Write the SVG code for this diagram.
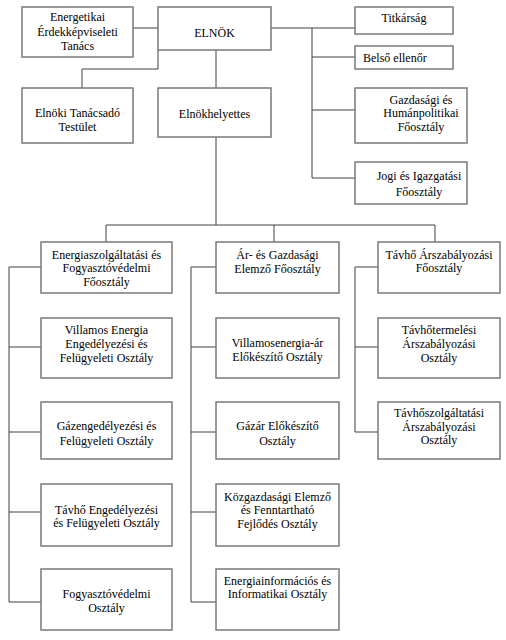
<svg xmlns="http://www.w3.org/2000/svg" width="506" height="640" viewBox="0 0 506 640" font-family="Liberation Serif, DejaVu Serif, Times New Roman, serif">
<style>
.b{fill:#fff;stroke:#7a7a7a;stroke-width:1.5}
.c{fill:none;stroke:#404040;stroke-width:1}
text{font-size:12px;fill:#000;text-anchor:middle}
</style>
<rect width="506" height="640" fill="#fff"/>
<g id="connectors">
<path class="c" d="M133 28H158"/>
<path class="c" d="M158 50V69H82V88"/>
<path class="c" d="M216 50V88"/>
<path class="c" d="M271 28H355M312 28V178M312 57H355M312 110H355M312 178H355"/>
<path class="c" d="M216 137V225M106 225H435M106 225V242M274 225V242M435 225V242"/>
<path class="c" d="M41 267H9V602H41M9 347H41M9 432H41M9 512H41"/>
<path class="c" d="M216 267H191V602H216M191 347H216M191 432H216M191 512H216"/>
<path class="c" d="M378 267H355V432H378M355 347H378"/>
</g>
<g id="energetikai"><rect class="b" x="22" y="7" width="111" height="50"/><text x="77.5" y="21">Energetikai</text><text x="77.5" y="36">Érdekképviseleti</text><text x="77.5" y="50">Tanács</text></g>
<g id="elnok"><rect class="b" x="158" y="7" width="113" height="43"/><text x="214.5" y="37">ELNÖK</text></g>
<g id="tanacsado"><rect class="b" x="22" y="88" width="111" height="55"/><text x="77.5" y="117">Elnöki Tanácsadó</text><text x="77.5" y="131">Testület</text></g>
<g id="elnokhelyettes"><rect class="b" x="158" y="88" width="113" height="49"/><text x="214.5" y="118">Elnökhelyettes</text></g>
<g id="titkarsag"><rect class="b" x="355" y="7" width="98" height="27"/><text x="404" y="22">Titkárság</text></g>
<g id="belso"><rect class="b" x="355" y="46" width="98" height="23"/><text x="363" y="62" style="text-anchor:start">Belső ellenőr</text></g>
<g id="gazdasagi"><rect class="b" x="355" y="88" width="112" height="55"/><text x="421" y="104">Gazdasági és</text><text x="421" y="117">Humánpolitikai</text><text x="421" y="131">Főosztály</text></g>
<g id="jogi"><rect class="b" x="355" y="162" width="112" height="42"/><text x="419" y="180">Jogi és Igazgatási</text><text x="419" y="196">Főosztály</text></g>
<g id="c1b1"><rect class="b" x="41" y="242" width="131" height="51"/><text x="106.5" y="259">Energiaszolgáltatási és</text><text x="106.5" y="272">Fogyasztóvédelmi</text><text x="106.5" y="286">Főosztály</text></g>
<g id="c1b2"><rect class="b" x="41" y="318" width="131" height="60"/><text x="106.5" y="334">Villamos Energia</text><text x="106.5" y="348">Engedélyezési és</text><text x="106.5" y="362">Felügyeleti Osztály</text></g>
<g id="c1b3"><rect class="b" x="41" y="402" width="131" height="57"/><text x="106.5" y="430">Gázengedélyezési és</text><text x="106.5" y="445">Felügyeleti Osztály</text></g>
<g id="c1b4"><rect class="b" x="41" y="484" width="131" height="62"/><text x="106.5" y="514">Távhő Engedélyezési</text><text x="106.5" y="527">és Felügyeleti Osztály</text></g>
<g id="c1b5"><rect class="b" x="41" y="569" width="131" height="61"/><text x="106.5" y="598">Fogyasztóvédelmi</text><text x="106.5" y="612">Osztály</text></g>
<g id="c2b1"><rect class="b" x="216" y="242" width="123" height="51"/><text x="277.5" y="259">Ár- és Gazdasági</text><text x="277.5" y="273">Elemző Főosztály</text></g>
<g id="c2b2"><rect class="b" x="216" y="318" width="123" height="60"/><text x="277.5" y="347">Villamosenergia-ár</text><text x="277.5" y="361">Előkészítő Osztály</text></g>
<g id="c2b3"><rect class="b" x="216" y="402" width="123" height="57"/><text x="277.5" y="430">Gázár Előkészítő</text><text x="277.5" y="445">Osztály</text></g>
<g id="c2b4"><rect class="b" x="216" y="484" width="123" height="62"/><text x="277.5" y="501">Közgazdasági Elemző</text><text x="277.5" y="514">és Fenntartható</text><text x="277.5" y="528">Fejlődés Osztály</text></g>
<g id="c2b5"><rect class="b" x="216" y="569" width="123" height="61"/><text x="277.5" y="585">Energiainformációs és</text><text x="277.5" y="598">Informatikai Osztály</text></g>
<g id="c3b1"><rect class="b" x="378" y="242" width="122" height="51"/><text x="439" y="259">Távhő Árszabályozási</text><text x="439" y="272">Főosztály</text></g>
<g id="c3b2"><rect class="b" x="378" y="318" width="122" height="60"/><text x="439" y="334">Távhőtermelési</text><text x="439" y="348">Árszabályozási</text><text x="439" y="362">Osztály</text></g>
<g id="c3b3"><rect class="b" x="378" y="402" width="122" height="57"/><text x="439" y="417">Távhőszolgáltatási</text><text x="439" y="431">Árszabályozási</text><text x="439" y="444">Osztály</text></g>
</svg>
